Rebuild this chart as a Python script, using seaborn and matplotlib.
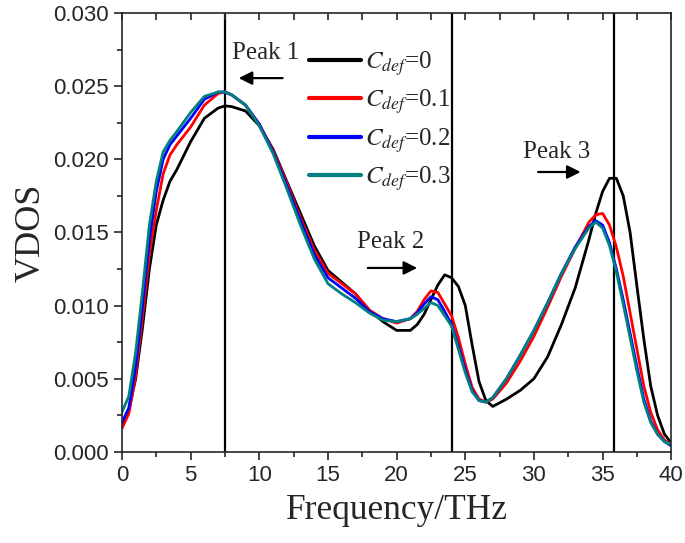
import numpy as np
import pandas as pd
import matplotlib
matplotlib.use("Agg")
import matplotlib.pyplot as plt
import matplotlib.lines as mlines
import seaborn as sns

# frequency grid (THz)
freq = [0, 0.5, 1, 1.5, 2, 2.5, 3, 3.5, 4, 5, 6, 7, 7.5, 8, 9, 10, 11, 12, 13, 14,
        15, 16, 17, 18, 19, 20, 21, 21.5, 22, 22.5, 23, 23.5, 24, 24.5, 25, 25.5,
        26, 26.5, 27, 28, 29, 30, 31, 32, 33, 34, 34.5, 35, 35.5, 36, 36.5, 37,
        37.5, 38, 38.5, 39, 39.5, 40]

# VDOS for each defect concentration
vdos_0 = [0.0018, 0.0028, 0.0050, 0.0085, 0.0125, 0.0155, 0.0172, 0.0185, 0.0193,
          0.0212, 0.0228, 0.0235, 0.02365, 0.0236, 0.0233, 0.0223, 0.0207, 0.0185,
          0.0163, 0.0141, 0.0124, 0.0116, 0.0108, 0.0097, 0.0089, 0.0083, 0.0083,
          0.0087, 0.0094, 0.0104, 0.0114, 0.0121, 0.0119, 0.0113, 0.0100, 0.0073,
          0.0048, 0.0035, 0.0031, 0.0036, 0.0042, 0.0050, 0.0065, 0.0087, 0.0112,
          0.0145, 0.0163, 0.0178, 0.0187, 0.0187, 0.0175, 0.0150, 0.0113, 0.0077,
          0.0045, 0.0025, 0.0012, 0.0006]
vdos_1 = [0.0016, 0.0026, 0.0052, 0.0092, 0.0135, 0.0165, 0.0190, 0.0203, 0.0210,
          0.0222, 0.0237, 0.0245, 0.0246, 0.0244, 0.0237, 0.0224, 0.0206, 0.0184,
          0.0160, 0.0138, 0.0122, 0.0115, 0.0108, 0.0097, 0.0091, 0.0088, 0.0091,
          0.0096, 0.0104, 0.0110, 0.0109, 0.0101, 0.0093, 0.0078, 0.0060, 0.0044,
          0.0036, 0.0034, 0.0036, 0.0047, 0.0062, 0.0079, 0.0099, 0.0120, 0.0139,
          0.0157, 0.0162, 0.0163, 0.0155, 0.0140, 0.0120, 0.0095, 0.0070, 0.0045,
          0.0027, 0.0015, 0.0008, 0.0005]
vdos_2 = [0.0020, 0.0030, 0.0058, 0.0100, 0.0145, 0.0178, 0.0200, 0.0210, 0.0216,
          0.0228, 0.0241, 0.0246, 0.0246, 0.0244, 0.0237, 0.0224, 0.0205, 0.0182,
          0.0158, 0.0135, 0.0119, 0.0112, 0.0105, 0.0096, 0.0091, 0.0089, 0.0091,
          0.0095, 0.0101, 0.0106, 0.0104, 0.0096, 0.0087, 0.0072, 0.0056, 0.0042,
          0.0035, 0.0034, 0.0037, 0.0050, 0.0066, 0.0083, 0.0102, 0.0122, 0.0140,
          0.0154, 0.0158, 0.0155, 0.0143, 0.0125, 0.0104, 0.0081, 0.0058, 0.0036,
          0.0021, 0.0012, 0.0007, 0.0004]
vdos_3 = [0.0027, 0.0038, 0.0068, 0.0110, 0.0155, 0.0185, 0.0205, 0.0213, 0.0219,
          0.0232, 0.0243, 0.0246, 0.0246, 0.0244, 0.0237, 0.0223, 0.0204, 0.0180,
          0.0155, 0.0132, 0.0115, 0.0108, 0.0102, 0.0095, 0.0090, 0.0089, 0.0091,
          0.0094, 0.0098, 0.0102, 0.0100, 0.0093, 0.0086, 0.0070, 0.0054, 0.0041,
          0.0035, 0.0034, 0.0037, 0.0050, 0.0066, 0.0083, 0.0102, 0.0122, 0.0139,
          0.0153, 0.0157, 0.0153, 0.0141, 0.0123, 0.0101, 0.0078, 0.0055, 0.0034,
          0.0020, 0.0012, 0.0007, 0.0005]

labels = [r"$C_{def}$=0", r"$C_{def}$=0.1", r"$C_{def}$=0.2", r"$C_{def}$=0.3"]
colors = ["#000000", "#FF0000", "#0000FF", "#008080"]
peak_pos = [7.5, 24, 35.8]

df = pd.DataFrame({"freq": freq, labels[0]: vdos_0, labels[1]: vdos_1,
                   labels[2]: vdos_2, labels[3]: vdos_3})
df = df.melt(id_vars="freq", var_name="conc", value_name="vdos")

sns.set_style("ticks")
plt.rcParams["font.family"] = ["Liberation Sans", "DejaVu Sans"]
plt.rcParams["mathtext.fontset"] = "stix"

fig = plt.figure(figsize=(6.85, 5.43), dpi=100)
ax = fig.add_axes([0.178, 0.168, 0.802, 0.808])

sns.lineplot(data=df, x="freq", y="vdos", hue="conc", palette=colors,
             linewidth=2.0, ax=ax)

for p in peak_pos:
    ax.axvline(p, color="black", linewidth=1.6, zorder=0)

ax.set_xlim(0, 40)
ax.set_ylim(0, 0.030)
ax.set_xticks(np.arange(0, 41, 5))
ax.set_xticks(np.arange(2.5, 40, 5), minor=True)
ax.set_yticks(np.arange(0, 0.0301, 0.005))
ax.set_yticks(np.arange(0.0025, 0.03, 0.005), minor=True)
ax.yaxis.set_major_formatter(matplotlib.ticker.FormatStrFormatter("%.3f"))
ax.tick_params(axis="both", which="major", labelsize=16, length=6, width=1.2,
               direction="out")
ax.tick_params(axis="both", which="minor", length=3.5, width=1.2, direction="out")
ax.tick_params(axis="x", which="both", top=True)
for sp in ax.spines.values():
    sp.set_linewidth(1.2)

# top edge ticks point inward
for t in ax.xaxis.get_major_ticks() + ax.xaxis.get_minor_ticks():
    t.tick2line.set_marker(mlines.TICKDOWN)
    t.tick2line.set_markersize(5)

serif = ["Liberation Serif", "DejaVu Serif"]
ax.set_xlabel("Frequency/THz", fontsize=25.5, family=serif, labelpad=6)
ax.set_ylabel("VDOS", fontsize=26, family=serif, labelpad=4)

# peak annotations
arrow = dict(arrowstyle="-|>", color="black", lw=1.6, mutation_scale=20)
ax.text(8.0, 0.0273, "Peak 1", fontsize=18, family=serif, va="center")
ax.annotate("", xy=(8.3, 0.02555), xytext=(11.9, 0.02555), arrowprops=arrow)
ax.text(17.1, 0.01434, "Peak 2", fontsize=18, family=serif, va="center")
ax.annotate("", xy=(21.7, 0.01257), xytext=(17.7, 0.01257), arrowprops=arrow)
ax.text(29.2, 0.0205, "Peak 3", fontsize=18, family=serif, va="center")
ax.annotate("", xy=(33.6, 0.01913), xytext=(30.1, 0.01913), arrowprops=arrow)

leg = ax.legend(loc="upper left", bbox_to_anchor=(0.322, 0.94), frameon=False,
                handlelength=2.1, labelspacing=0.38, handletextpad=0.15,
                borderaxespad=0, prop={"family": serif, "size": 18})
for line in leg.get_lines():
    line.set_linewidth(3.0)

fig.savefig("out.png", dpi=100)
